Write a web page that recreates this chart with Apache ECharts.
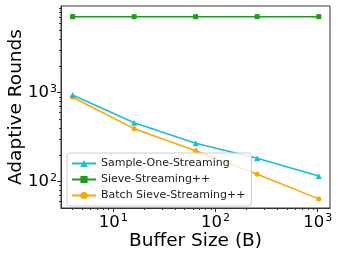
<!DOCTYPE html>
<html><head><meta charset="utf-8">
<script src="https://cdn.jsdelivr.net/npm/echarts@6/dist/echarts.min.js"></script>
<style>html,body{margin:0;padding:0;background:#fff}#c{width:338px;height:256px}</style>
</head><body><div id="c"></div>
<script>
const bufferSizes = [4, 16, 64, 256, 1024];
const sampleOne = [942, 460, 270, 183, 116];
const sieve = [7150, 7150, 7150, 7150, 7150];
const batchSieve = [888, 394, 223, 121, 64];
const xMajor = [10, 100, 1000];
const yMajor = [100, 1000];
const xMinor = [4,5,6,7,8,9,20,30,40,50,60,70,80,90,200,300,400,500,600,700,800,900];
const yMinor = [60,70,80,90,200,300,400,500,600,700,800,900,2000,3000,4000,5000,6000,7000,8000,9000];
const xRange = [3.08, 1320];
const yRange = [50.6, 9420];

const font = 'DejaVu Sans';
const sup = v => '{b|10}{s|' + Math.round(Math.log10(v)) + '}';
const rich = {
  b: {fontFamily: font, fontSize: 16.5, color: '#000'},
  s: {fontFamily: font, fontSize: 11, color: '#000', verticalAlign: 'top', padding: [0,0,8,1]}
};
const axisCol = '#333';

function pts(ys){ return bufferSizes.map((x,i)=>[x, ys[i]]); }

const chart = echarts.init(document.getElementById('c'), null, {renderer:'canvas'});
chart.setOption({
  animation: false,
  grid: {left: 61, right: 8, top: 6, bottom: 48, show: true, borderColor: axisCol, borderWidth: 1,
         containLabel: false, outerBoundsMode: 'none'},
  xAxis: [{
    type: 'log', min: xRange[0], max: xRange[1], logBase: 10,
    name: 'Buffer Size (B)', nameLocation: 'middle', nameGap: 24, nameMoveOverlap: false,
    nameTextStyle: {fontFamily: font, fontSize: 18.5, color: '#000'},
    axisLine: {show: true, lineStyle: {color: axisCol}},
    axisTick: {show: true, length: 4, customValues: xMajor, lineStyle: {color: axisCol}},
    axisLabel: {customValues: xMajor, formatter: sup, rich: rich, margin: 5},
    splitLine: {show: false}
  }, {
    type: 'log', min: xRange[0], max: xRange[1], logBase: 10, position: 'bottom',
    axisLine: {show: false},
    axisTick: {show: true, length: 2, customValues: xMinor, lineStyle: {color: axisCol}},
    axisLabel: {show: false}, splitLine: {show: false}
  }],
  yAxis: [{
    type: 'log', min: yRange[0], max: yRange[1], logBase: 10,
    name: 'Adaptive Rounds', nameLocation: 'middle', nameGap: 35, nameMoveOverlap: false,
    nameTextStyle: {fontFamily: font, fontSize: 18.5, color: '#000'},
    axisLine: {show: true, lineStyle: {color: axisCol}},
    axisTick: {show: true, length: 4, customValues: yMajor, lineStyle: {color: axisCol}},
    axisLabel: {customValues: yMajor, formatter: sup, rich: rich, margin: 4},
    splitLine: {show: false}
  }, {
    type: 'log', min: yRange[0], max: yRange[1], logBase: 10, position: 'left',
    axisLine: {show: false},
    axisTick: {show: true, length: 2, customValues: yMinor, lineStyle: {color: axisCol}},
    axisLabel: {show: false}, splitLine: {show: false}
  }],
  legend: {
    orient: 'vertical', left: 67, top: 153, itemGap: 5, itemWidth: 24, itemHeight: 9,
    padding: [5, 6, 5, 4],
    borderColor: '#ccc', borderWidth: 1, borderRadius: 3, backgroundColor: 'rgba(255,255,255,0.8)',
    textStyle: {fontFamily: font, fontSize: 11, color: '#222'},
    data: ['Sample-One-Streaming', 'Sieve-Streaming++', 'Batch Sieve-Streaming++']
  },
  series: [
    {name: 'Sample-One-Streaming', type: 'line', data: pts(sampleOne), symbol: 'triangle', symbolSize: 6,
     itemStyle: {color: '#17becf'}, lineStyle: {width: 1.5, color: '#17becf'}, z: 3},
    {name: 'Sieve-Streaming++', type: 'line', data: pts(sieve), symbol: 'rect', symbolSize: 5,
     itemStyle: {color: '#1f9a1f'}, lineStyle: {width: 1.5, color: '#1f9a1f'}, z: 3},
    {name: 'Batch Sieve-Streaming++', type: 'line', data: pts(batchSieve), symbol: 'circle', symbolSize: 5,
     itemStyle: {color: '#ffa500'}, lineStyle: {width: 1.5, color: '#ffa500'}, z: 2}
  ]
});
</script></body></html>
